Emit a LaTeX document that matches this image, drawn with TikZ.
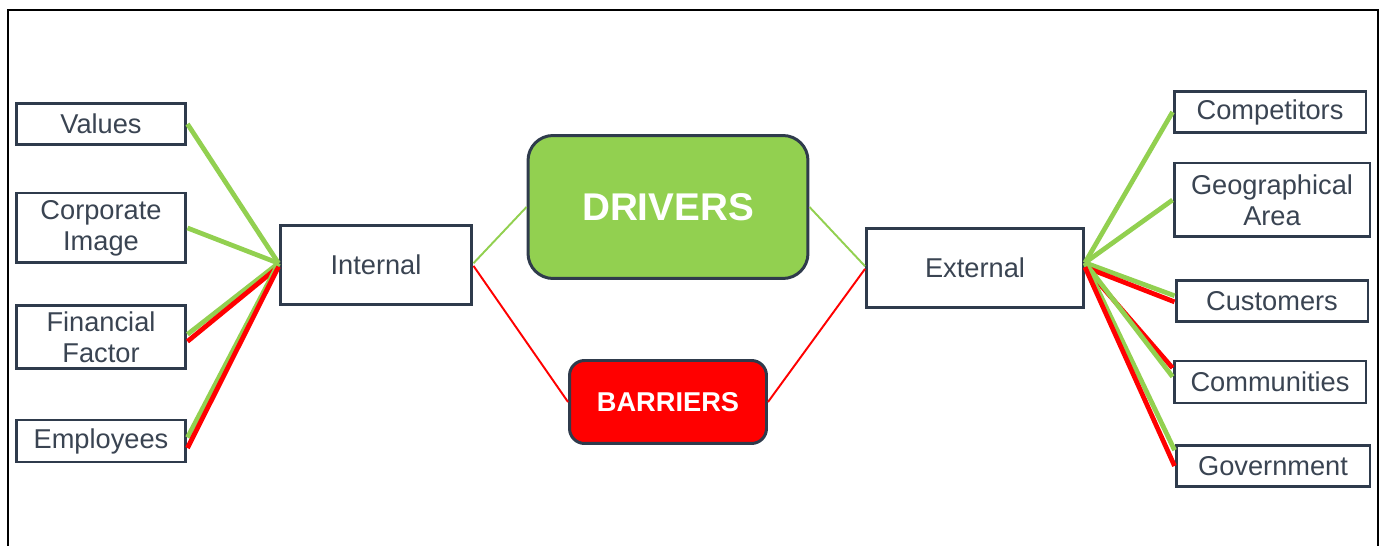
\documentclass[tikz,border=0pt]{standalone}
\usepackage{fontspec}
\setmainfont{Liberation Sans}

\definecolor{drvgreen}{HTML}{92D050}
\definecolor{barred}{HTML}{FF0000}
\definecolor{boxline}{HTML}{2F3B4C}
\definecolor{boxtext}{HTML}{3A4452}

\tikzset{
  factor/.style={draw=boxline,line width=1.7pt,fill=white,text=boxtext,align=center,
    inner sep=0pt,font=\fontsize{15.5}{17.5}\selectfont},
  glink/.style={drvgreen,line width=2.7pt},
  rlink/.style={barred,line width=2.7pt},
  gthin/.style={drvgreen,line width=1.1pt},
  rthin/.style={barred,line width=1.1pt},
}

\begin{document}
\begin{tikzpicture}[x=0.02cm,y=-0.02cm]
\useasboundingbox (0,0) rectangle (1381,546);
%\draw[step=50,gray,very thin] (0,0) grid (1381,546); %background grid

% frame, open at the bottom
\draw[black,line width=1.1pt] (8,560) -- (8,10) -- (1378,10) -- (1378,560);

%---------------------------------------------------
% internal factors
\node[factor,minimum width=3.4cm,minimum height=0.82cm] (values) at (101,124) {Values};
\node[factor,minimum width=3.4cm,minimum height=1.4cm]  (image)  at (101,228) {Corporate\\Image};
\node[factor,minimum width=3.4cm,minimum height=1.26cm] (money)  at (101,337) {Financial\\Factor};
\node[factor,minimum width=3.4cm,minimum height=0.84cm] (staff)  at (101,441) {Employees};

%---------------------------------------------------
% external factors
\node[factor,minimum width=3.84cm,minimum height=0.82cm] (rivals)  at (1270,112) {Competitors};
\node[factor,minimum width=3.92cm,minimum height=1.48cm] (area)    at (1272,200) {Geographical\\Area};
\node[factor,minimum width=3.84cm,minimum height=0.82cm] (clients) at (1272,301) {Customers};
\node[factor,minimum width=3.84cm,minimum height=0.84cm] (commun)  at (1270,382) {Communities};
\node[factor,minimum width=3.88cm,minimum height=0.82cm] (gov)     at (1273,466) {Government};

%---------------------------------------------------
\node[factor,minimum width=3.84cm,minimum height=1.58cm] (internal) at (376,265) {Internal};
\node[factor,minimum width=4.34cm,minimum height=1.58cm] (external) at (975,268) {External};

\node[factor,fill=drvgreen,rounded corners=0.5cm,minimum width=5.6cm,minimum height=2.86cm,
  text=white,font=\fontsize{22}{26}\selectfont\bfseries] (drivers) at (668,207) {DRIVERS};
\node[factor,fill=barred,rounded corners=0.3cm,minimum width=3.94cm,minimum height=1.66cm,
  text=white,font=\fontsize{15.5}{18}\selectfont\bfseries] (barriers) at (668,402) {BARRIERS};

%---------------------------------------------------
\draw[gthin] ([yshift=1pt]internal.east) -- (drivers.west);
\draw[rthin] ([yshift=-0.5pt]internal.east) -- (barriers.west);
\draw[gthin] (drivers.east) -- ([yshift=1pt]external.west);
\draw[rthin] (barriers.east) -- ([yshift=-0.5pt]external.west);

%---------------------------------------------------
\draw[glink] (values.east) -- ([yshift=1pt]internal.west);
\draw[glink] (image.east) -- ([yshift=1pt]internal.west);
\draw[glink] ([yshift=1.5pt]money.east) -- ([yshift=1pt]internal.west);
\draw[rlink] ([yshift=-2.5pt]money.east) -- ([yshift=-1pt]internal.west);
\draw[glink] ([yshift=2pt]staff.east) -- ([yshift=1pt]internal.west);
\draw[rlink] ([yshift=-4pt]staff.east) -- ([yshift=-1pt]internal.west);

\draw[glink] ([yshift=3pt]external.east) -- (rivals.west);
\draw[glink] ([yshift=3pt]external.east) -- (area.west);
\draw[glink] ([yshift=3pt]external.east) -- ([yshift=3pt]clients.west);
\draw[rlink] ([yshift=0.5pt]external.east) -- ([yshift=-0.5pt]clients.west);
\draw[rlink] ([yshift=0.5pt]external.east) -- ([yshift=8pt]commun.west);
\draw[glink] ([yshift=3pt]external.east) -- ([yshift=3pt]commun.west);
\draw[glink] ([yshift=3pt]external.east) -- ([yshift=9pt]gov.west);
\draw[rlink] ([yshift=0.5pt]external.east) -- (gov.west);

\end{tikzpicture}
\end{document}
